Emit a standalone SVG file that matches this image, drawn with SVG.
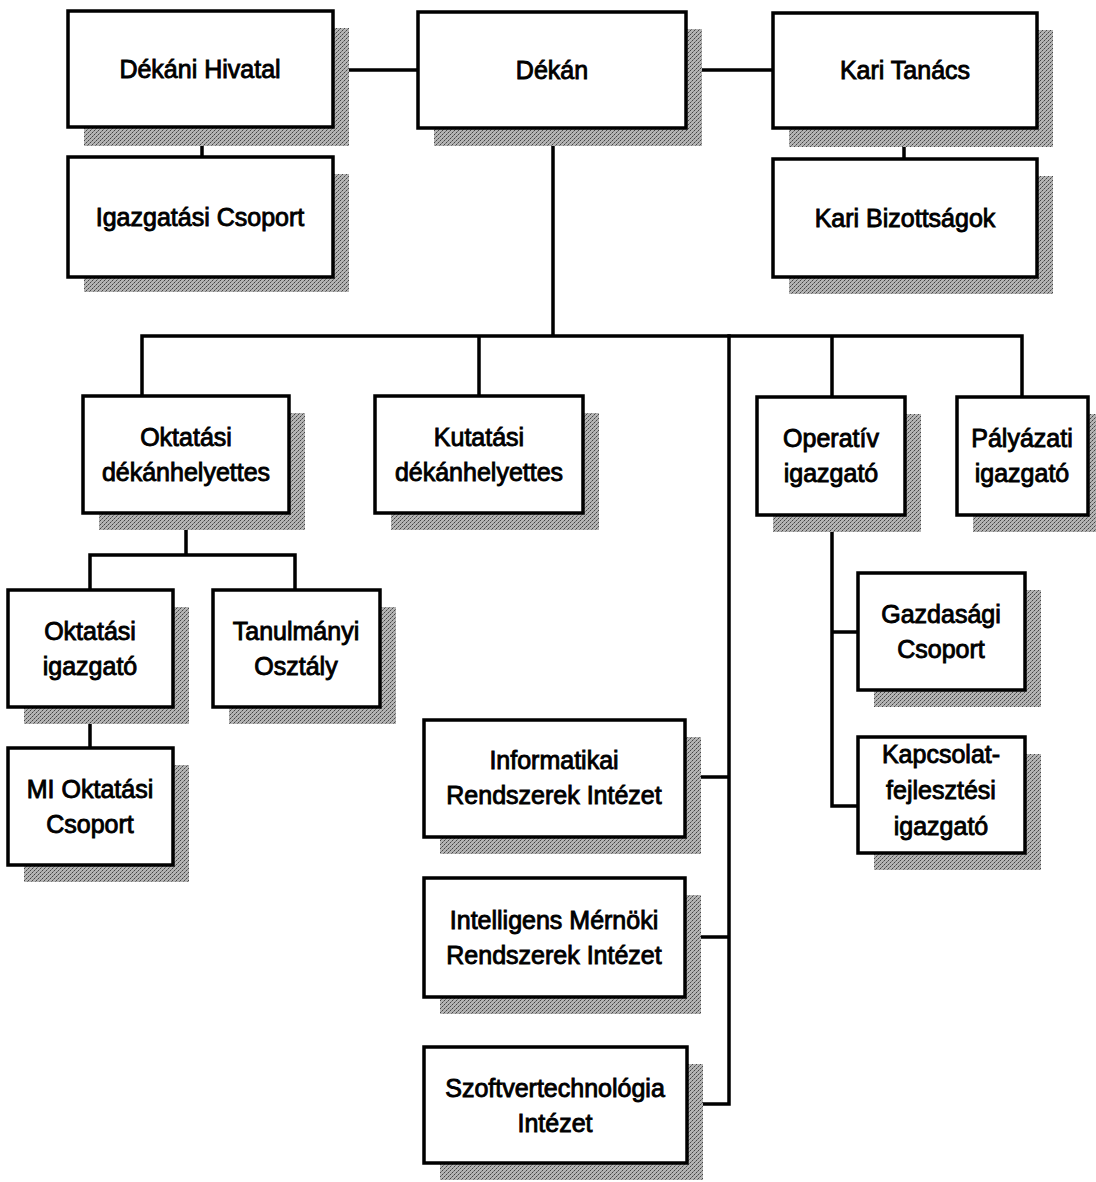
<svg xmlns="http://www.w3.org/2000/svg" width="1096" height="1182" viewBox="0 0 1096 1182">
<defs>
<pattern id="dots" width="4" height="4" patternUnits="userSpaceOnUse">
<rect width="4" height="4" fill="#b4b4b4"/>
<rect x="0" y="0" width="1" height="1" fill="#444"/>
<rect x="2" y="2" width="1" height="1" fill="#444"/>
<rect x="1" y="3" width="1" height="1" fill="#777"/>
<rect x="3" y="1" width="1" height="1" fill="#777"/>
</pattern>
</defs>
<style>
.sh{fill:url(#dots);}
.bx{fill:#fff;stroke:#000;stroke-width:3.5;}
.t{font-family:"Liberation Sans",Arial,sans-serif;font-size:25px;fill:#000;stroke:#000;stroke-width:0.9;text-anchor:middle;}
.c{fill:none;stroke:#000;stroke-width:3.5;stroke-linecap:square;}
</style>
<rect width="1096" height="1182" fill="#fff"/>

<g id="connectors">
<path class="c" d="M333 70H418M686 70H773M202 127V157M904 128V159"/>
<path class="c" d="M553 128V336M142 336H1022M142 336V396M479 336V396M832 336V397M1022 336V397"/>
<path class="c" d="M729 336V1104M685 777H729M685 937H729M687 1104H729"/>
<path class="c" d="M186 513V555M90 555H295M90 555V590M295 555V590M90 707V748"/>
<path class="c" d="M832 515V806M832 632H858M832 806H858"/>
</g>

<g id="dekani-hivatal"><rect class="sh" x="84" y="28" width="265" height="118"/><rect class="bx" x="68" y="11" width="265" height="116"/><text class="t" x="200" y="78">Dékáni Hivatal</text></g>
<g id="igazgatasi-csoport"><rect class="sh" x="84" y="174" width="265" height="118"/><rect class="bx" x="68" y="157" width="265" height="120"/><text class="t" x="200" y="226">Igazgatási Csoport</text></g>
<g id="dekan"><rect class="sh" x="434" y="29" width="268" height="117"/><rect class="bx" x="418" y="12" width="268" height="116"/><text class="t" x="552" y="79">Dékán</text></g>
<g id="kari-tanacs"><rect class="sh" x="789" y="30" width="264" height="117"/><rect class="bx" x="773" y="13" width="264" height="115"/><text class="t" x="905" y="79">Kari Tanács</text></g>
<g id="kari-bizottsagok"><rect class="sh" x="789" y="176" width="264" height="118"/><rect class="bx" x="773" y="159" width="264" height="118"/><text class="t" x="905" y="227">Kari Bizottságok</text></g>

<g id="oktatasi-dekanhelyettes"><rect class="sh" x="99" y="413" width="206" height="117"/><rect class="bx" x="83" y="396" width="206" height="117"/><text class="t" x="186" y="446">Oktatási</text><text class="t" x="186" y="481">dékánhelyettes</text></g>
<g id="kutatasi-dekanhelyettes"><rect class="sh" x="391" y="413" width="208" height="117"/><rect class="bx" x="375" y="396" width="208" height="117"/><text class="t" x="479" y="446">Kutatási</text><text class="t" x="479" y="481">dékánhelyettes</text></g>
<g id="operativ-igazgato"><rect class="sh" x="773" y="414" width="148" height="118"/><rect class="bx" x="757" y="397" width="148" height="118"/><text class="t" x="831" y="447">Operatív</text><text class="t" x="831" y="482">igazgató</text></g>
<g id="palyazati-igazgato"><rect class="sh" x="973" y="414" width="131" height="118"/><rect class="bx" x="957" y="397" width="131" height="118"/><text class="t" x="1022" y="447">Pályázati</text><text class="t" x="1022" y="482">igazgató</text></g>

<g id="oktatasi-igazgato"><rect class="sh" x="24" y="607" width="165" height="117"/><rect class="bx" x="8" y="590" width="165" height="117"/><text class="t" x="90" y="640">Oktatási</text><text class="t" x="90" y="675">igazgató</text></g>
<g id="tanulmanyi-osztaly"><rect class="sh" x="229" y="607" width="167" height="117"/><rect class="bx" x="213" y="590" width="167" height="117"/><text class="t" x="296" y="640">Tanulmányi</text><text class="t" x="296" y="675">Osztály</text></g>
<g id="mi-oktatasi-csoport"><rect class="sh" x="24" y="765" width="165" height="117"/><rect class="bx" x="8" y="748" width="165" height="117"/><text class="t" x="90" y="798">MI Oktatási</text><text class="t" x="90" y="833">Csoport</text></g>

<g id="gazdasagi-csoport"><rect class="sh" x="874" y="590" width="167" height="117"/><rect class="bx" x="858" y="573" width="167" height="117"/><text class="t" x="941" y="623">Gazdasági</text><text class="t" x="941" y="658">Csoport</text></g>
<g id="kapcsolatfejlesztesi-igazgato"><rect class="sh" x="874" y="754" width="167" height="116"/><rect class="bx" x="858" y="737" width="167" height="116"/><text class="t" x="941" y="763">Kapcsolat-</text><text class="t" x="941" y="799">fejlesztési</text><text class="t" x="941" y="835">igazgató</text></g>

<g id="informatikai-rendszerek-intezet"><rect class="sh" x="440" y="737" width="261" height="117"/><rect class="bx" x="424" y="720" width="261" height="117"/><text class="t" x="554" y="769">Informatikai</text><text class="t" x="554" y="804">Rendszerek Intézet</text></g>
<g id="intelligens-mernoki-rendszerek-intezet"><rect class="sh" x="440" y="895" width="261" height="119"/><rect class="bx" x="424" y="878" width="261" height="119"/><text class="t" x="554" y="929">Intelligens Mérnöki</text><text class="t" x="554" y="964">Rendszerek Intézet</text></g>
<g id="szoftvertechnologia-intezet"><rect class="sh" x="440" y="1064" width="263" height="116"/><rect class="bx" x="424" y="1047" width="263" height="116"/><text class="t" x="555" y="1097">Szoftvertechnológia</text><text class="t" x="555" y="1132">Intézet</text></g>
</svg>
